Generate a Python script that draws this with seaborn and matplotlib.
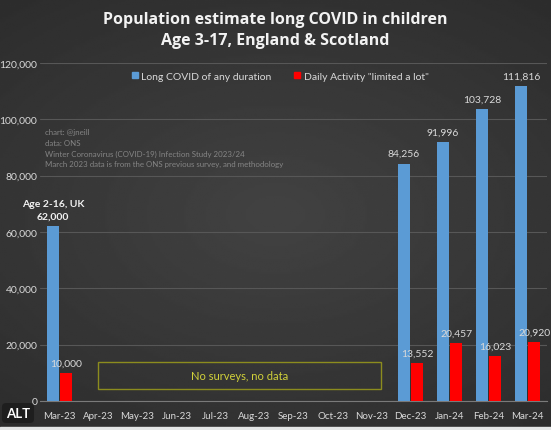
import numpy as np
import pandas as pd
import matplotlib.pyplot as plt
import matplotlib.patches as mpatches
import seaborn as sns

# data
months = ["Mar-23", "Apr-23", "May-23", "Jun-23", "Jul-23", "Aug-23", "Sep-23",
          "Oct-23", "Nov-23", "Dec-23", "Jan-24", "Feb-24", "Mar-24"]
long_covid = [62000, np.nan, np.nan, np.nan, np.nan, np.nan, np.nan,
              np.nan, np.nan, 84256, 91996, 103728, 111816]
limited_lot = [10000, np.nan, np.nan, np.nan, np.nan, np.nan, np.nan,
               np.nan, np.nan, 13552, 20457, 16023, 20920]
series_names = ["Long COVID of any duration", 'Daily Activity "limited a lot"']
series_colors = ["#5b9bd5", "#ff0000"]
notes = ["chart: @jneill", "data: ONS",
         "Winter Coronavirus (COVID-19) Infection Study 2023/24",
         "March 2023 data is from the ONS previous survey, and methodology"]

df = pd.DataFrame({
    "month": months * 2,
    "value": long_covid + limited_lot,
    "series": [series_names[0]] * len(months) + [series_names[1]] * len(months),
})

sns.set_style("dark")
plt.rcParams["font.family"] = ["Lato", "DejaVu Sans"]

fig = plt.figure(figsize=(5.51, 4.31), dpi=100)
fig.patch.set_facecolor("#363636")

# soft radial background like the Excel chart area
bg = fig.add_axes([0, 0, 1, 1], zorder=-10)
yy, xx = np.mgrid[-1:1:200j, -1:1:250j]
r = np.sqrt((xx * 0.9) ** 2 + (yy * 1.1) ** 2)
bg.imshow(0.26 - 0.06 * np.clip(r, 0, 1.4), cmap="gray", vmin=0, vmax=1,
          aspect="auto", extent=[0, 1, 0, 1])
bg.axis("off")
fig.patches.append(mpatches.Rectangle((0, 0), 1, 0.008, transform=fig.transFigure,
                                      color="#e4e6e6", zorder=5))

ax = fig.add_axes([40 / 551, 1 - 402 / 431, 507 / 551, 338 / 431])
ax.set_facecolor("none")

sns.barplot(data=df, x="month", y="value", hue="series", order=months,
            hue_order=series_names, palette=series_colors, width=0.68, gap=0.08,
            saturation=1, linewidth=0, ax=ax, legend=False, zorder=3)

ax.set_xlim(-0.42, 12.5)
ax.set_ylim(0, 120000)
ax.set_yticks(range(0, 120001, 20000))
ax.set_yticklabels([f"{v:,}" for v in range(0, 120001, 20000)])
ax.grid(axis="y", color="#575757", lw=0.8, zorder=0)
ax.grid(axis="x", visible=False)
ax.set_xlabel("")
ax.set_ylabel("")
for s in ["top", "right", "left"]:
    ax.spines[s].set_visible(False)
ax.spines["bottom"].set_color("#7a7a7a")
ax.tick_params(axis="y", length=0, pad=2, labelsize=7.5, labelcolor="#d9d9d9")
ax.tick_params(axis="x", which="major", length=0, pad=7, labelsize=7,
               labelcolor="#d9d9d9")
ax.set_xticks(np.arange(-0.5, 13, 1), minor=True)
ax.tick_params(axis="x", which="minor", length=3, color="#7a7a7a")

# value labels
for k, cont in enumerate(ax.containers):
    for i, bar in enumerate(cont):
        v = bar.get_height()
        if np.isnan(v):
            continue
        cx = bar.get_x() + bar.get_width() / 2
        if k == 0 and i == 0:
            ax.annotate(f"{v:,.0f}", (cx, v), xytext=(0, 4), textcoords="offset points",
                        ha="center", va="bottom", fontsize=7.5, fontweight="bold",
                        color="#f2f2f2")
            ax.annotate("Age 2-16, UK", (cx, v), xytext=(0, 13), textcoords="offset points",
                        ha="center", va="bottom", fontsize=7.5, fontweight="bold",
                        color="#f2f2f2")
        else:
            ax.annotate(f"{v:,.0f}", (cx, v), xytext=(0, 4), textcoords="offset points",
                        ha="center", va="bottom", fontsize=7.5, color="#d9d9d9")

# no data box
ax.add_patch(mpatches.Rectangle((0.99, 4300), 7.26, 9500, fill=False,
                                edgecolor="#8c8c1e", lw=1, zorder=2))
ax.text(0.99 + 7.26 / 2, 4300 + 9500 / 2, "No surveys, no data", ha="center",
        va="center", fontsize=8, color="#d2d23a")

# legend
handles = [mpatches.Patch(color=c, label=n) for c, n in zip(series_colors, series_names)]
fig.legend(handles=handles, loc="center", bbox_to_anchor=(280 / 551, 1 - 77 / 431), ncol=2,
           frameon=False, fontsize=7.5, labelcolor="#d9d9d9", handlelength=0.6,
           handleheight=0.6, handletextpad=0.3, columnspacing=2.2)

# title and notes
title_font = ["Open Sans", "DejaVu Sans"]
fig.text(275 / 551, 1 - 20 / 431, "Population estimate long COVID in children",
         ha="center", va="center", fontsize=11.5, fontweight="bold", color="#f2f2f2",
         family=title_font)
fig.text(275 / 551, 1 - 41 / 431, "Age 3-17, England & Scotland",
         ha="center", va="center", fontsize=11.5, fontweight="bold", color="#f2f2f2",
         family=title_font)
for k, line in enumerate(notes):
    fig.text(45 / 551, 1 - (133 + k * 10.5) / 431, line, ha="left", va="center",
             fontsize=5.7, color="#858585")

fig.text(18 / 551, 1 - 414 / 431, "ALT", ha="center", va="center", fontsize=9.5,
         fontweight="bold", color="white",
         bbox=dict(boxstyle="round,pad=0.3", fc="#1e1e1e", ec="none"))

fig.savefig("out.png", dpi=100, facecolor=fig.get_facecolor())
